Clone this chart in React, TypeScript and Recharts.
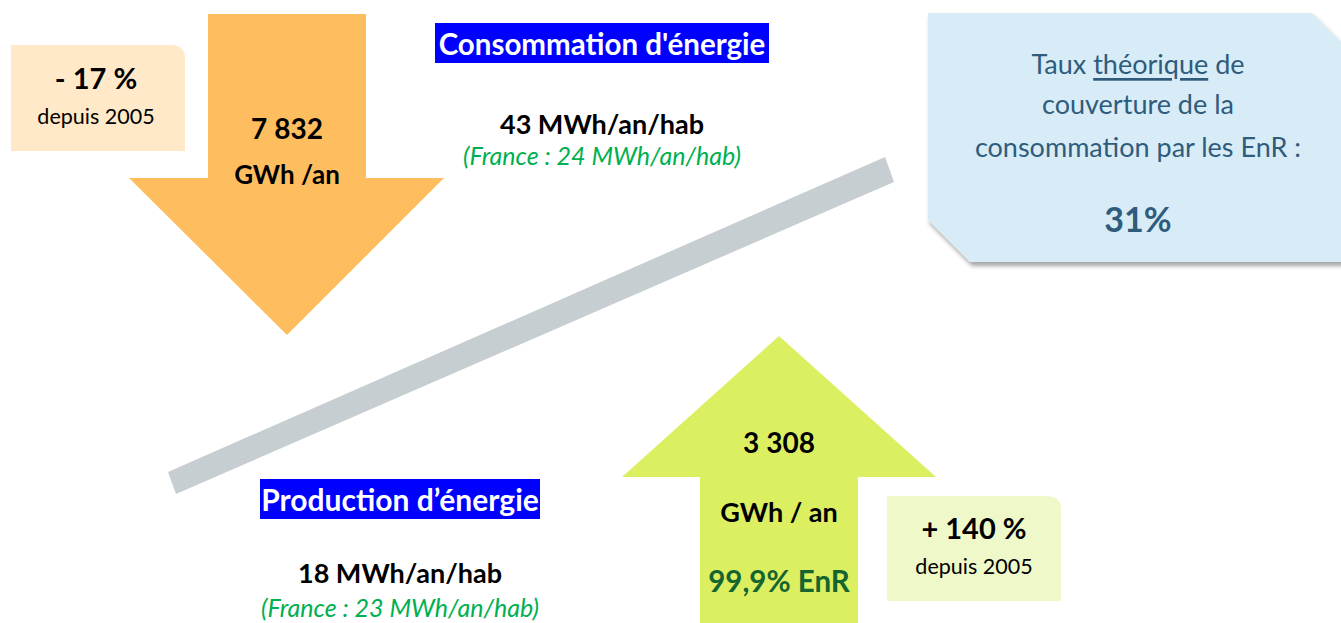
import React from 'react';
import { ComposedChart, Customized } from 'recharts';

// ---- Data ----
const flowNames = ['Consommation d\'énergie', 'Production d’énergie'];
const flowValues = [7832, 3308]; // GWh / an
const perCapita = [43, 18]; // MWh/an/hab
const perCapitaFrance = [24, 23]; // MWh/an/hab
const changeSince2005 = [-17, 140]; // %
const coverageRate = 31; // %
const enrShare = 99.9; // % EnR of production

const W = 1341;
const H = 623;
const FONT = 'Lato, "Liberation Sans", sans-serif';

const fmtInt = (v: number) => String(v).replace(/\B(?=(\d{3})+(?!\d))/g, ' ');
const fmtPct = (v: number) => (v < 0 ? `- ${Math.abs(v)} %` : `+ ${v} %`);
const fmtDec = (v: number) => String(v).replace('.', ',');

const COLORS = {
  orange: '#FEBE5F',
  lime: '#DCEF60',
  orangeBox: '#FFE9C8',
  limeBox: '#EFF8C9',
  blueBox: '#D7ECF7',
  blueText: '#2F5C7C',
  band: '#C6CED1',
  titleBg: '#0000FF',
  green: '#00B050',
  darkGreen: '#14652F',
};

type TProps = {
  x: number;
  y: number;
  size: number;
  bold?: boolean;
  italic?: boolean;
  fill?: string;
  children: React.ReactNode;
};
const T = ({ x, y, size, bold, italic, fill = '#000', children }: TProps) => (
  <text
    x={x}
    y={y}
    fontSize={size}
    fontFamily={FONT}
    fontWeight={bold ? 700 : 400}
    fontStyle={italic ? 'italic' : 'normal'}
    fill={fill}
    textAnchor="middle"
    dominantBaseline="central"
  >
    {children}
  </text>
);

const Infographic = () => (
  <g>
    <defs>
      <filter id="shadow" x="-10%" y="-10%" width="130%" height="130%">
        <feDropShadow dx="2" dy="4" stdDeviation="2" floodColor="#000" floodOpacity="0.35" />
      </filter>
    </defs>

    {/* grey balance band */}
    <polygon points="168,472 885,157 894,182 176,494" fill={COLORS.band} />

    {/* consumption arrow (down) */}
    <polygon
      points="208,14 366,14 366,178 444,178 287,335 129,178 208,178"
      fill={COLORS.orange}
    />
    {/* production arrow (up) */}
    <polygon
      points="779,336 936,477 858,477 858,623 700,623 700,477 622,477"
      fill={COLORS.lime}
    />

    {/* change boxes */}
    <path d="M11,45 H171 Q185,45 185,59 V151 H11 Z" fill={COLORS.orangeBox} />
    <path d="M887,496 H1047 Q1061,496 1061,510 V601 H887 Z" fill={COLORS.limeBox} />

    {/* coverage box */}
    <polygon
      points="928,13 1312,13 1352,53 1352,262 970,262 928,220"
      fill={COLORS.blueBox}
      filter="url(#shadow)"
    />

    {/* title boxes */}
    <rect x={435} y={23} width={334} height={40} fill={COLORS.titleBg} />
    <rect x={260} y={479} width={280} height={40} fill={COLORS.titleBg} />

    {/* consumption texts */}
    <T x={602} y={43} size={29.5} bold fill="#fff">{flowNames[0]}</T>
    <T x={602} y={123} size={27} bold>{`${perCapita[0]} MWh/an/hab`}</T>
    <T x={602} y={155} size={25} italic fill={COLORS.green}>{`(France : ${perCapitaFrance[0]} MWh/an/hab)`}</T>
    <T x={287} y={128} size={28} bold>{fmtInt(flowValues[0])}</T>
    <T x={287} y={174} size={26} bold>GWh /an</T>
    <T x={96} y={77} size={29} bold>{fmtPct(changeSince2005[0])}</T>
    <T x={96} y={116} size={21.5}>depuis 2005</T>

    {/* coverage texts */}
    <text
      x={1138}
      y={63}
      fontSize={27}
      fontFamily={FONT}
      fill={COLORS.blueText}
      textAnchor="middle"
      dominantBaseline="central"
    >
      Taux <tspan style={{ textDecoration: 'underline' }}>théorique</tspan> de
    </text>
    <T x={1138} y={103} size={27} fill={COLORS.blueText}>couverture de la</T>
    <T x={1138} y={146} size={27} fill={COLORS.blueText}>consommation par les EnR :</T>
    <T x={1138} y={218} size={34} bold fill={COLORS.blueText}>{`${coverageRate}%`}</T>

    {/* production texts */}
    <T x={400} y={499} size={30} bold fill="#fff">{flowNames[1]}</T>
    <T x={400} y={572} size={27} bold>{`${perCapita[1]} MWh/an/hab`}</T>
    <T x={400} y={607} size={25} italic fill={COLORS.green}>{`(France : ${perCapitaFrance[1]} MWh/an/hab)`}</T>
    <T x={779} y={442} size={28} bold>{fmtInt(flowValues[1])}</T>
    <T x={779} y={511} size={27} bold>GWh / an</T>
    <T x={779} y={580} size={29.5} bold fill={COLORS.darkGreen}>{`${fmtDec(enrShare)}% EnR`}</T>
    <T x={974} y={527} size={29} bold>{fmtPct(changeSince2005[1])}</T>
    <T x={974} y={566} size={21.5}>depuis 2005</T>
  </g>
);

const chartData = flowNames.map((name, i) => ({ name, value: flowValues[i] }));

export default function App() {
  return (
    <div style={{ position: 'absolute', left: 0, top: 0, width: W, height: H, background: '#fff' }}>
      <ComposedChart width={W} height={H} data={chartData} margin={{ top: 0, right: 0, bottom: 0, left: 0 }}>
        <Customized component={Infographic} />
      </ComposedChart>
    </div>
  );
}
